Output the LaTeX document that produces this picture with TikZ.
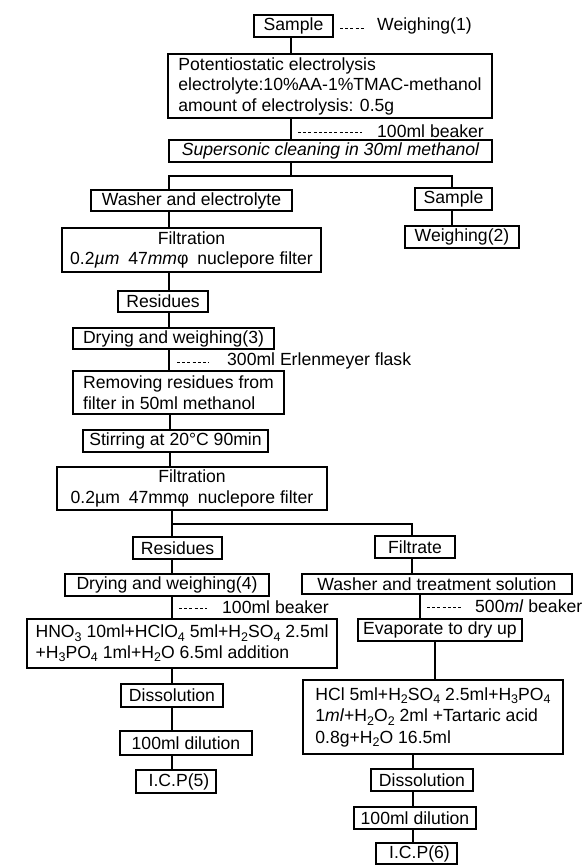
\documentclass[tikz,border=0pt]{standalone}
\usepackage{fontspec}
\setmainfont{Liberation Sans}
\usetikzlibrary{calc}
\newcommand\sbs[1]{\raisebox{-3.5bp}{\fontsize{12.5bp}{12.5bp}\selectfont #1}}
\begin{document}
\begin{tikzpicture}[x=1bp,y=-1bp,
  box/.style={draw, line width=1.3bp, inner sep=0pt, font=\fontsize{17.6bp}{20.5bp}\selectfont},
  conn/.style={line width=1.3bp},
  dashline/.style={line width=0.9bp, dash pattern=on 3bp off 2.2bp},
  lab/.style={inner sep=0pt, anchor=west, font=\fontsize{17.6bp}{20.5bp}\selectfont}]
\useasboundingbox (0,0) rectangle (587,865);

% top
\node[box, minimum width=79bp, minimum height=22bp] (s1) at (293.5,26) {Sample};
\node[lab] (l1) at (377,26) {Weighing(1)};
\coordinate (d1a) at (340,28); \coordinate (d1b) at (365,28);
\draw[dashline] (d1a) -- (d1b);

\node[box, minimum width=324bp, minimum height=64bp, align=left] (p1) at (330,86)
  {Potentiostatic electrolysis\\electrolyte:10\%AA-1\%TMAC-methanol\\amount of electrolysis: 0.5g};
\coordinate (cxA) at (291,0);
\draw[conn] (s1.south -| cxA) -- (p1.north -| cxA);

\node[lab] (l2) at (377,131) {100ml beaker};
\coordinate (d2a) at (298,132); \coordinate (d2b) at (362,132);
\draw[dashline] (d2a) -- (d2b);

\node[box, minimum width=323bp, minimum height=22bp] (sc) at (330.5,151)
  {\itshape Supersonic cleaning in 30ml methanol};
\draw[conn] (p1.south -| cxA) -- (sc.north -| cxA);

% first branch
\node[box, minimum width=201bp, minimum height=21bp] (we) at (191.5,200.5) {Washer and electrolyte};
\node[box, minimum width=77bp, minimum height=22bp] (s2) at (453.5,199) {Sample};
\node[box, minimum width=114bp, minimum height=22bp] (w2) at (462,237) {Weighing(2)};
\coordinate (b1) at (291,176);
\coordinate (cxL) at (169,0);
\coordinate (cxR) at (452,0);
\draw[conn] (sc.south -| cxA) -- (b1) -- (b1 -| cxL) -- (we.north -| cxL);
\draw[conn] (b1) -- (b1 -| cxR) -- (s2.north -| cxR);
\draw[conn] (s2.south -| cxR) -- (w2.north -| cxR);

\node[box, minimum width=259bp, minimum height=44bp, align=center] (f1) at (191.5,250)
  {Filtration\\0.2\textit{µm}\hspace{0.5em}47\textit{mm}φ\hspace{0.5em}nuclepore filter};
\draw[conn] (we.south -| cxL) -- (f1.north -| cxL);

\node[box, minimum width=90bp, minimum height=21bp] (r1) at (163,301.5) {Residues};
\draw[conn] (f1.south -| cxL) -- (r1.north -| cxL);

\node[box, minimum width=201bp, minimum height=21bp] (d3) at (173.5,338.5) {Drying and weighing(3)};
\draw[conn] (r1.south -| cxL) -- (d3.north -| cxL);

\node[lab] (l3) at (227,361) {300ml Erlenmeyer flask};
\coordinate (d3a) at (177,362); \coordinate (d3b) at (209,362);
\draw[dashline] (d3a) -- (d3b);

\node[box, minimum width=211bp, minimum height=43bp, align=left] (rm) at (178.5,392.5)
  {Removing residues from\\filter in 50ml methanol};
\draw[conn] (d3.south -| cxL) -- (rm.north -| cxL);

\coordinate (cxL2) at (170,0);
\node[box, minimum width=185bp, minimum height=22bp] (st) at (175.5,441) {Stirring at 20°C 90min};
\draw[conn] (rm.south -| cxL2) -- (st.north -| cxL2);

\node[box, minimum width=270bp, minimum height=43bp, align=center] (f2) at (192,488.5)
  {Filtration\\0.2µm\hspace{0.5em}47mmφ\hspace{0.5em}nuclepore filter};
\draw[conn] (st.south -| cxL2) -- (f2.north -| cxL2);

% second branch
\coordinate (b2) at (172,524);
\coordinate (cxM) at (172,0);
\coordinate (cxF) at (412,0);
\node[box, minimum width=89bp, minimum height=22bp] (r2) at (177.5,548) {Residues};
\node[box, minimum width=80bp, minimum height=22bp] (ft) at (415,547) {Filtrate};
\draw[conn] (f2.south -| cxM) -- (b2) -- (r2.north -| cxM);
\draw[conn] (b2) -- (b2 -| cxF) -- (ft.north -| cxF);

% left column
\node[box, minimum width=204bp, minimum height=22bp] (d4) at (167,585) {Drying and weighing(4)};
\draw[conn] (r2.south -| cxM) -- (d4.north -| cxM);

\node[lab] (l4) at (222,607) {100ml beaker};
\coordinate (d4a) at (179,608); \coordinate (d4b) at (207,608);
\draw[dashline] (d4a) -- (d4b);

\node[box, minimum width=310bp, minimum height=49bp, align=left] (hn) at (182,643.5)
  {HNO\sbs{3} 10ml+HClO\sbs{4} 5ml+H\sbs{2}SO\sbs{4} 2.5ml\\+H\sbs{3}PO\sbs{4} 1ml+H\sbs{2}O 6.5ml addition};
\draw[conn] (d4.south -| cxM) -- (hn.north -| cxM);

\node[box, minimum width=102bp, minimum height=23bp] (ds1) at (172,695.5) {Dissolution};
\draw[conn] (hn.south -| cxM) -- (ds1.north -| cxM);

\node[box, minimum width=132bp, minimum height=24bp] (dl1) at (186,743) {100ml dilution};
\draw[conn] (ds1.south -| cxM) -- (dl1.north -| cxM);

\node[box, minimum width=80bp, minimum height=23bp] (ic5) at (176,781.5) {\hspace{6bp}I.C.P(5)};
\draw[conn] (dl1.south -| cxM) -- (ic5.north -| cxM);

% right column
\node[box, minimum width=270bp, minimum height=20bp] (wt) at (437,584) {Washer and treatment solution};
\draw[conn] (ft.south -| cxF) -- (wt.north -| cxF);

\node[lab] (l5) at (475,606) {500\textit{ml} beaker};
\coordinate (d5a) at (427,607); \coordinate (d5b) at (463,607);
\draw[dashline] (d5a) -- (d5b);

\coordinate (cxW) at (420,0);
\node[box, minimum width=164bp, minimum height=22bp] (ev) at (440,630) {Evaporate to dry up};
\draw[conn] (wt.south -| cxW) -- (ev.north -| cxW);

\coordinate (cxE) at (435,0);
\node[box, minimum width=260bp, minimum height=74bp, align=left,
  font=\fontsize{17.6bp}{21.5bp}\selectfont] (hc) at (433,717)
  {HCl 5ml+H\sbs{2}SO\sbs{4} 2.5ml+H\sbs{3}PO\sbs{4}\\1\textit{ml}+H\sbs{2}O\sbs{2} 2ml +Tartaric acid\\0.8g+H\sbs{2}O 16.5ml};
\draw[conn] (ev.south -| cxE) -- (hc.north -| cxE);

\coordinate (cxH) at (413,0);
\node[box, minimum width=102bp, minimum height=22bp] (ds2) at (422,780) {Dissolution};
\draw[conn] (hc.south -| cxH) -- (ds2.north -| cxH);

\node[box, minimum width=122bp, minimum height=22bp] (dl2) at (415,818) {100ml dilution};
\draw[conn] (ds2.south -| cxH) -- (dl2.north -| cxH);

\node[box, minimum width=81bp, minimum height=21bp] (ic6) at (416.5,853.5) {\hspace{6bp}I.C.P(6)};
\draw[conn] (dl2.south -| cxH) -- (ic6.north -| cxH);
\end{tikzpicture}
\end{document}
